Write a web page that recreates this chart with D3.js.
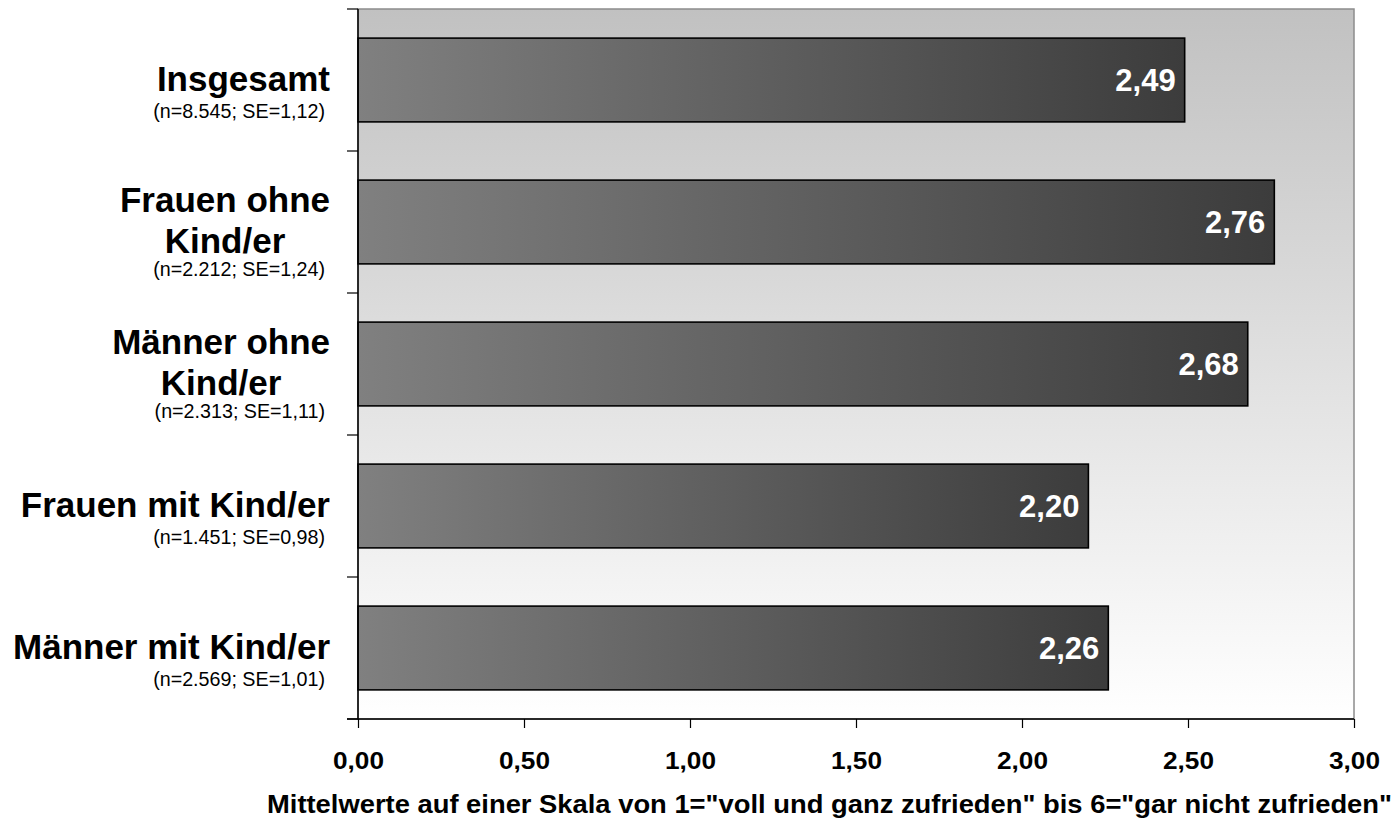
<!DOCTYPE html>
<html>
<head>
<meta charset="utf-8">
<script src="https://cdn.jsdelivr.net/npm/d3@7"></script>
<style>
  html, body { margin: 0; padding: 0; background: #fff; }
  svg { display: block; font-family: "Liberation Sans", Arial, sans-serif; }
</style>
</head>
<body>
<svg id="chart" width="1398" height="822"></svg>
<script>
// Groups (label lines), sample notes and mean scores
const categories = ["Insgesamt", "Frauen ohne Kind/er", "Männer ohne Kind/er", "Frauen mit Kind/er", "Männer mit Kind/er"];
const labelLines = [["Insgesamt"], ["Frauen ohne", "Kind/er"], ["Männer ohne", "Kind/er"], ["Frauen mit Kind/er"], ["Männer mit Kind/er"]];
const sampleNotes = ["(n=8.545; SE=1,12)", "(n=2.212; SE=1,24)", "(n=2.313; SE=1,11)", "(n=1.451; SE=0,98)", "(n=2.569; SE=1,01)"];
const values = [2.49, 2.76, 2.68, 2.20, 2.26];
const xTicks = [0, 0.5, 1, 1.5, 2, 2.5, 3];
const axisTitle = 'Mittelwerte auf einer Skala von 1="voll und ganz zufrieden" bis 6="gar nicht zufrieden"';

const svg = d3.select("#chart");
const plot = { left: 358, right: 1354, top: 9, bottom: 719 };

const x = d3.scaleLinear().domain([0, 3]).range([plot.left, plot.right]);
const slot = d3.scaleBand().domain(categories).range([plot.top, plot.bottom]).padding(0);
const y = d3.scaleBand().domain(categories).range([plot.top, plot.bottom])
  .paddingInner(0.41).paddingOuter(0.205);

const fmt = v => d3.format(".2f")(v).replace(".", ",");

// Gradients
const defs = svg.append("defs");
const bg = defs.append("linearGradient").attr("id", "bgGrad")
  .attr("x1", 0).attr("y1", 0).attr("x2", 0).attr("y2", 1);
bg.append("stop").attr("offset", "0%").attr("stop-color", "#c1c1c1");
bg.append("stop").attr("offset", "100%").attr("stop-color", "#ffffff");

const barGrad = defs.append("linearGradient").attr("id", "barGrad")
  .attr("x1", 0).attr("y1", 0).attr("x2", 1).attr("y2", 0);
barGrad.append("stop").attr("offset", "0%").attr("stop-color", "#808080");
barGrad.append("stop").attr("offset", "100%").attr("stop-color", "#3c3c3c");

// Plot background with grey frame
svg.append("rect")
  .attr("x", plot.left).attr("y", plot.top)
  .attr("width", plot.right - plot.left).attr("height", plot.bottom - plot.top)
  .attr("fill", "url(#bgGrad)")
  .attr("stroke", "#8c8c8c").attr("stroke-width", 1.5);

// Bars
svg.append("g").selectAll("rect")
  .data(categories)
  .join("rect")
  .attr("x", x(0))
  .attr("y", d => y(d))
  .attr("width", (d, i) => x(values[i]) - x(0))
  .attr("height", y.bandwidth())
  .attr("fill", "url(#barGrad)")
  .attr("stroke", "#000")
  .attr("stroke-width", 1.6);

// Value labels inside bar ends
svg.append("g").selectAll("text")
  .data(categories)
  .join("text")
  .attr("x", (d, i) => x(values[i]) - 9)
  .attr("y", d => y(d) + y.bandwidth() / 2 + 11)
  .attr("text-anchor", "end")
  .attr("fill", "#fff")
  .attr("font-weight", "bold")
  .attr("font-size", 31)
  .text((d, i) => fmt(values[i]));

// Category axis (ticks at slot boundaries)
const boundaries = categories.map(c => slot(c)).concat([plot.bottom]);
const yAxisG = svg.append("g");
yAxisG.append("line")
  .attr("x1", plot.left).attr("x2", plot.left)
  .attr("y1", plot.top).attr("y2", plot.bottom)
  .attr("stroke", "#000").attr("stroke-width", 1.5);
yAxisG.selectAll("line.tick")
  .data(boundaries)
  .join("line").attr("class", "tick")
  .attr("x1", plot.left - 11).attr("x2", plot.left)
  .attr("y1", d => d).attr("y2", d => d)
  .attr("stroke", "#000").attr("stroke-width", 1.2);

// Value axis
const xAxis = d3.axisBottom(x).tickValues(xTicks).tickSize(9).tickFormat(fmt);
const xAxisG = svg.append("g")
  .attr("transform", `translate(0,${plot.bottom})`)
  .call(xAxis);
xAxisG.select(".domain").remove();
xAxisG.append("line")
  .attr("x1", plot.left - 11).attr("x2", plot.right)
  .attr("y1", 0).attr("y2", 0)
  .attr("stroke", "#000").attr("stroke-width", 1.5);
xAxisG.selectAll(".tick line").attr("stroke", "#000").attr("stroke-width", 1.2);
xAxisG.selectAll(".tick text")
  .attr("font-family", "'Liberation Sans', Arial, sans-serif")
  .attr("font-size", 24)
  .attr("font-weight", "bold")
  .attr("fill", "#000")
  .attr("dy", null)
  .attr("y", 50)
  .attr("textLength", 51)
  .attr("lengthAdjust", "spacingAndGlyphs");

// Category labels
const labelRight = 330;
const labelsG = svg.append("g");
categories.forEach((c, i) => {
  const cy = slot(c) + slot.bandwidth() / 2;
  const lines = labelLines[i];
  const g = labelsG.append("g");
  const firstBase = lines.length === 1 ? cy + 11 : cy - 10;
  const texts = lines.map((ln, j) => g.append("text")
    .attr("y", firstBase + j * 41)
    .attr("font-size", 35)
    .attr("font-weight", "bold")
    .attr("fill", "#000")
    .attr("text-anchor", "middle")
    .text(ln));
  const maxW = d3.max(texts, t => t.node().getComputedTextLength());
  texts.forEach(t => t.attr("x", labelRight - maxW / 2));
  g.append("text")
    .attr("x", labelRight - 5)
    .attr("y", lines.length === 1 ? cy + 38 : cy + 54)
    .attr("text-anchor", "end")
    .attr("font-size", 19.7)
    .attr("fill", "#000")
    .text(sampleNotes[i]);
});

// Axis title
svg.append("text")
  .attr("x", 267)
  .attr("y", 813)
  .attr("font-size", 25)
  .attr("font-weight", "bold")
  .attr("fill", "#000")
  .attr("textLength", 1125)
  .attr("lengthAdjust", "spacingAndGlyphs")
  .text(axisTitle);
</script>
</body>
</html>
